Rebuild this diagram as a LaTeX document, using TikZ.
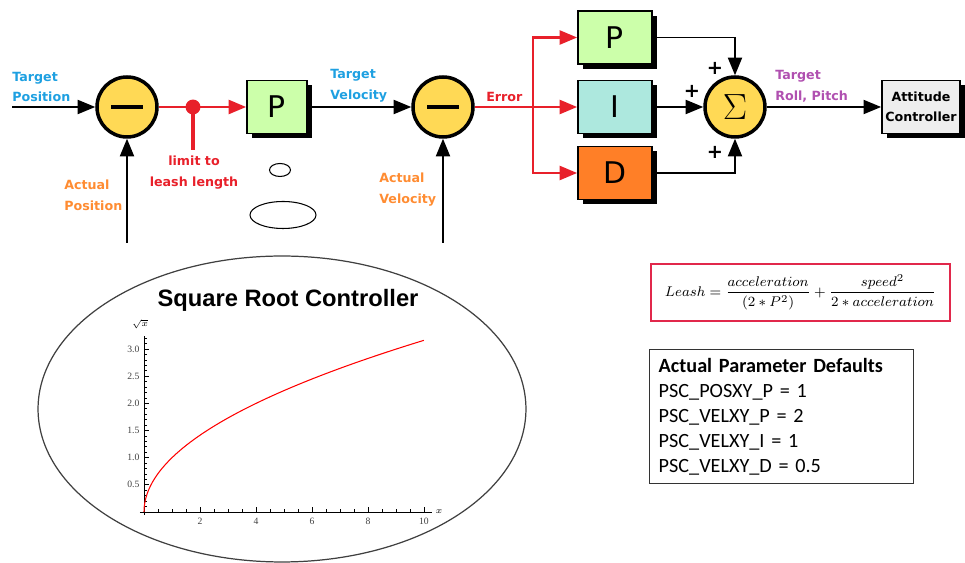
\documentclass[tikz,border=0pt]{standalone}
\usepackage{amsmath}
\usepackage{fontspec}
\usepackage{tikz}
\usetikzlibrary{arrows.meta}
\usetikzlibrary{shadows}

\newfontfamily\lblfont{DejaVu Sans}
\newfontfamily\titlefont{Liberation Sans}
\newfontfamily\notefont{Carlito}
\newfontfamily\tickfont{Liberation Serif}

\definecolor{targetblue}{RGB}{30,160,225}
\definecolor{actualorange}{RGB}{255,140,50}
\definecolor{errred}{RGB}{232,32,42}
\definecolor{rollpurple}{RGB}{176,80,176}
\definecolor{junctionyellow}{RGB}{255,217,85}
\definecolor{pgreen}{RGB}{204,255,170}
\definecolor{iteal}{RGB}{173,232,222}
\definecolor{dorange}{RGB}{255,127,39}
\definecolor{attgray}{RGB}{238,238,238}
\definecolor{leashred}{RGB}{225,40,75}

\begin{document}
\begin{tikzpicture}[x=0.02cm,y=-0.02cm,
		junction/.style={shape=circle,draw=black,line width=2pt,fill=junctionyellow,minimum size=1.2cm,inner sep=0pt},
		gain/.style={shape=rectangle,draw=black,line width=1pt,minimum height=1.06cm,inner sep=0pt,
			font=\lblfont\fontsize{17}{17}\selectfont,
			general shadow={fill=black,shadow xshift=2.8pt,shadow yshift=-2.8pt}},
		sig/.style={font=\lblfont\bfseries\fontsize{7.2}{11.9}\selectfont,inner sep=0pt},
		plus/.style={font=\lblfont\bfseries\fontsize{11}{11}\selectfont,inner sep=0pt},
		wire/.style={line width=1pt,-{Triangle[length=10pt,width=8pt]}},
		errwire/.style={wire,draw=errred,line width=1.4pt},
		minus/.style={junction,label=center:{\rule[-0.9pt]{18pt}{1.8pt}}}]
			\useasboundingbox (0,0) rectangle (965,563);

			%% position loop
			\node[minus] (sub1) at (127,107) {};
			\node[gain,fill=pgreen,minimum width=1.2cm] (posgain) at (277,107) {P};
			\coordinate (clip) at (193,107);
			\coordinate (tposin) at (12,107);
			\coordinate (aposin) at (127,243);
			\coordinate (leashend) at (193,150);

			%% velocity loop
			\node[minus] (sub2) at (443,107) {};
			\node[gain,fill=pgreen,minimum width=1.48cm] (pgain) at (615,37.5) {P};
			\node[gain,fill=iteal,minimum width=1.48cm] (igain) at (615,107) {I};
			\node[gain,fill=dorange,minimum width=1.48cm] (dgain) at (615,173) {D};
			\node[junction] (sum) at (735,107) {\fontsize{22}{22}\selectfont$\Sigma$};
			\node[gain,fill=attgray,minimum width=1.56cm,font=\lblfont\bfseries\fontsize{7.2}{11.3}\selectfont,align=center] (att) at (921,107) {Attitude\\Controller};
			\coordinate (avelin) at (443,243);
			\coordinate (errsplit) at (533,107);

			%% labels
			\node[sig,text=targetblue,align=left,anchor=west] (tposlbl) at (12,87) {Target\\Position};
			\node[sig,text=actualorange,align=left,anchor=west] (aposlbl) at (64,195) {Actual\\Position};
			\node[sig,text=errred,align=center] (leashlbl) at (194,173) {limit to\\leash length};
			\node[sig,text=targetblue,align=left,anchor=west] (tvellbl) at (330,86) {Target\\Velocity};
			\node[sig,text=actualorange,align=left,anchor=west] (avellbl) at (379,190) {Actual\\Velocity};
			\node[sig,text=errred,anchor=west] (errlbl) at (486,97) {Error};
			\node[sig,text=rollpurple,align=left,anchor=west] (rolllbl) at (775,86) {Target\\Roll, Pitch};
			\node[plus] (plusp) at (715,68) {+};
			\node[plus] (plusi) at (692,91) {+};
			\node[plus] (plusd) at (715,152) {+};

			%% lines
			\draw[wire] (tposin) -- (sub1);
			\draw[wire] (aposin) -- (sub1);
			\draw[errwire] (sub1) -- (posgain);
			\draw[errred,line width=2.2pt] (clip) -- (leashend);
			\node[circle,fill=errred,inner sep=0pt,minimum size=8.5pt] (clipdot) at (clip) {};
			\draw[wire] (posgain) -- (sub2);
			\draw[wire] (avelin) -- (sub2);
			\draw[errwire] (sub2) -- (igain);
			\draw[errwire] (errsplit) |- (pgain);
			\draw[errwire] (errsplit) |- (dgain);
			\draw[wire] (pgain) -| (sum);
			\draw[wire] (igain) -- (sum);
			\draw[wire] (dgain) -| (sum);
			\draw[wire] (sum) -- (att);

			%% stray marks under the P block
			\draw[line width=0.6pt] (280,170) ellipse (0.21cm and 0.13cm);
			\draw[line width=0.6pt] (283,215) ellipse (0.66cm and 0.27cm);

			%% square root plot
			\draw[black!75,line width=0.7pt] (282,409) ellipse (4.88cm and 3.06cm);
			\node[font=\titlefont\bfseries\fontsize{13.5}{13.5}\selectfont] (sqrttitle) at (288,300) {Square Root Controller};
			\begin{scope}[shift={(144,512)},x=0.56cm,y=1.086cm,line width=0.5pt]
				\draw (-0.15,0) -- (10.3,0);
				\draw (0,-0.05) -- (0,3.24);
				\foreach \t in {1,...,32} \draw (0,\t/10) -- ++(0.05cm,0);
				\foreach \t in {1,...,6} \draw (0,\t/2) -- ++(0.1cm,0);
				\foreach \t in {1,...,20} \draw (\t/2,0) -- ++(0,0.05cm);
				\foreach \t in {2,4,...,10} \draw (\t,0) -- ++(0,0.1cm);
				\foreach \y in {0.5,1.0,1.5,2.0,2.5,3.0}
					\node[font=\tickfont\fontsize{5.5}{5.5}\selectfont,text=black!75,anchor=east,inner sep=0pt] at (-0.15,\y) {\y};
				\foreach \x in {2,4,6,8,10}
					\node[font=\tickfont\fontsize{5.5}{5.5}\selectfont,text=black!75,inner sep=0pt] at (\x,-0.17) {\x};
				\node[font=\fontsize{5.5}{5.5}\selectfont,inner sep=0pt] (ylbl) at (-0.14,3.46) {$\sqrt{x}$};
				\node[font=\fontsize{5.5}{5.5}\selectfont,inner sep=0pt] (xlbl) at (10.54,0) {$x$};
				\draw[red,line width=0.6pt] plot[domain=0:3.1623,samples=60,variable=\t] ({\t*\t},\t);
			\end{scope}

			%% leash formula and defaults
			\node[draw=leashred,line width=1.6pt,minimum width=5.98cm,minimum height=1.14cm,font=\fontsize{8.5}{10}\selectfont] (leash) at (800.5,292.5)
				{$\displaystyle Leash=\frac{acceleration}{(2*P^2)}+\frac{speed^2}{2*acceleration}$};
			\node[draw=black!80,line width=0.8pt,anchor=north west,minimum width=5.28cm,minimum height=2.68cm,
				text width=4.92cm,inner xsep=0.18cm,align=left,font=\notefont\fontsize{11.5}{14.2}\selectfont] (defaults) at (649,349)
				{\textbf{Actual Parameter Defaults}\\PSC\_POSXY\_P = 1\\PSC\_VELXY\_P = 2\\PSC\_VELXY\_I = 1\\PSC\_VELXY\_D = 0.5};
		\end{tikzpicture}
\end{document}
